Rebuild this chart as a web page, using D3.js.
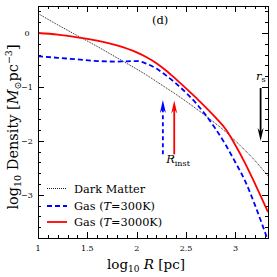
<!DOCTYPE html>
<html>
<head>
<meta charset="utf-8">
<script src="https://cdn.jsdelivr.net/npm/d3@7"></script>
<style>
  body { margin: 0; background: #fff; }
  svg { display: block; font-family: "DejaVu Serif", serif; }
</style>
</head>
<body>
<svg id="chart" width="277" height="277"></svg>
<script>
// log10 R [pc]
var logR = [1.0, 1.2, 1.4, 1.6, 1.8, 2.0, 2.1, 2.2, 2.3, 2.4, 2.6, 2.8, 2.9, 3.0, 3.1, 3.2, 3.33];
// log10 density
var darkMatter = [0.36, 0.15, -0.05, -0.25, -0.46, -0.67, -0.78, -0.9, -1.02, -1.14, -1.4, -1.68, -1.83, -2.0, -2.18, -2.37, -2.65];
var gas300 = [-0.43, -0.46, -0.49, -0.52, -0.53, -0.52, -0.57, -0.66, -0.79, -0.94, -1.3, -1.78, -2.07, -2.4, -2.75, -3.2, -3.85];
var gas3000 = [0.0, -0.03, -0.08, -0.14, -0.23, -0.36, -0.45, -0.56, -0.7, -0.86, -1.2, -1.57, -1.78, -2.08, -2.42, -2.8, -3.32];

var xTicks = [1, 1.5, 2, 2.5, 3];
var yTicks = [0, -1, -2, -3];

// vertical arrows: [logR, from, to]
var rInstBlue = [2.265, -2.25, -1.24];
var rInstRed = [2.38, -2.25, -1.25];
var rsArrow = [3.255, -1.02, -2.0];

window.addEventListener('load', init);

function init() {
    var svg = d3.select('#chart');
    var left = 38, right = 268, top = 6, bottom = 238;

    var xScale = d3.scaleLinear().domain([1, 3.33]).range([left, right]);
    var yScale = d3.scaleLinear().domain([-3.8, 0.5]).range([bottom, top]);

    svg.append('clipPath').attr('id', 'clip')
        .append('rect')
        .attr('x', left).attr('y', top)
        .attr('width', right - left).attr('height', bottom - top);

    // ticks on all four sides, pointing in
    var xMinor = d3.range(1, 3.331, 0.1);
    var yMinor = d3.range(-3.8, 0.501, 0.2);
    var g = svg.append('g').attr('stroke', '#000').attr('stroke-width', 1);
    xMinor.forEach(function (v) {
        var major = Math.abs(v * 2 - Math.round(v * 2)) < 1e-6;
        var len = major ? 6 : 3;
        var x = Math.round(xScale(v)) + 0.5;
        g.append('line').attr('x1', x).attr('x2', x).attr('y1', bottom).attr('y2', bottom - len);
        g.append('line').attr('x1', x).attr('x2', x).attr('y1', top).attr('y2', top + len);
    });
    yMinor.forEach(function (v) {
        var major = Math.abs(v - Math.round(v)) < 1e-6;
        var len = major ? 6 : 3;
        var y = Math.round(yScale(v)) + 0.5;
        g.append('line').attr('y1', y).attr('y2', y).attr('x1', left).attr('x2', left + len);
        g.append('line').attr('y1', y).attr('y2', y).attr('x1', right).attr('x2', right - len);
    });

    svg.selectAll('.xlab').data(xTicks).enter().append('text')
        .attr('x', function (d) { return xScale(d); })
        .attr('y', 251)
        .attr('text-anchor', 'middle')
        .attr('font-size', 8)
        .text(function (d) { return d; });

    svg.selectAll('.ylab').data(yTicks).enter().append('text')
        .attr('x', 27)
        .attr('y', function (d) { return yScale(d) + 3; })
        .attr('text-anchor', 'middle')
        .attr('font-size', 8)
        .text(function (d) { return d === 0 ? '0' : '\u2212' + (-d); });

    var line = d3.line()
        .x(function (d) { return xScale(d[0]); })
        .y(function (d) { return yScale(d[1]); })
        .curve(d3.curveMonotoneX);

    var curves = svg.append('g').attr('clip-path', 'url(#clip)');
    curves.append('path')
        .attr('d', line(d3.zip(logR, darkMatter)))
        .attr('fill', 'none').attr('stroke', '#000')
        .attr('stroke-width', 0.9).attr('stroke-dasharray', '1,1');
    curves.append('path')
        .attr('d', line(d3.zip(logR, gas300)))
        .attr('fill', 'none').attr('stroke', '#0000ff')
        .attr('stroke-width', 1.8).attr('stroke-dasharray', '5,3');
    curves.append('path')
        .attr('d', line(d3.zip(logR, gas3000)))
        .attr('fill', 'none').attr('stroke', '#ff0000')
        .attr('stroke-width', 1.8);

    // frame
    svg.append('rect')
        .attr('x', left + 0.5).attr('y', top + 0.5)
        .attr('width', right - left).attr('height', bottom - top)
        .attr('fill', 'none').attr('stroke', '#000').attr('stroke-width', 1);

    function arrow(a, color, dash, up) {
        var x = xScale(a[0]);
        var y0 = yScale(a[1]), y1 = yScale(a[2]);
        var dir = up ? 1 : -1;
        svg.append('line')
            .attr('x1', x).attr('x2', x)
            .attr('y1', y0).attr('y2', y1 + dir * 8)
            .attr('stroke', color).attr('stroke-width', 1.8)
            .attr('stroke-dasharray', dash);
        svg.append('path')
            .attr('d', 'M' + x + ',' + y1 + ' L' + (x - 3) + ',' + (y1 + dir * 13) +
                ' L' + x + ',' + (y1 + dir * 9) + ' L' + (x + 3) + ',' + (y1 + dir * 13) + 'Z')
            .attr('fill', color);
    }
    arrow(rInstBlue, '#0000ff', '4,3', true);
    arrow(rInstRed, '#ff0000', null, true);
    arrow(rsArrow, '#000', null, false);

    var rinst = svg.append('text')
        .attr('x', 178).attr('y', 163)
        .attr('text-anchor', 'middle').attr('font-size', 11.5);
    rinst.append('tspan').attr('font-style', 'italic').text('R');
    rinst.append('tspan').attr('font-size', 8).attr('dy', 3).text('inst');

    var rs = svg.append('text')
        .attr('x', 256).attr('y', 80).attr('font-size', 11.5);
    rs.append('tspan').attr('font-style', 'italic').text('r');
    rs.append('tspan').attr('font-size', 8).attr('dy', 2).text('s');

    svg.append('text').attr('x', 152).attr('y', 24)
        .attr('font-size', 11.5).text('(d)');

    // legend
    var legend = [
        { label: 'Dark Matter', color: '#000', w: 0.9, dash: '1,1' },
        { label: 'Gas (T=300K)', color: '#0000ff', w: 1.8, dash: '5,3' },
        { label: 'Gas (T=3000K)', color: '#ff0000', w: 1.8, dash: null }
    ];
    var ly = [188.5, 206, 222];
    legend.forEach(function (d, i) {
        svg.append('line')
            .attr('x1', 47).attr('x2', 67).attr('y1', ly[i]).attr('y2', ly[i])
            .attr('stroke', d.color).attr('stroke-width', d.w)
            .attr('stroke-dasharray', d.dash);
        var t = svg.append('text').attr('x', 74).attr('y', ly[i] + 4).attr('font-size', 11.3);
        if (i === 0) {
            t.text(d.label);
        } else {
            t.append('tspan').text('Gas (');
            t.append('tspan').attr('font-style', 'italic').text('T');
            t.append('tspan').text(i === 1 ? '=300K)' : '=3000K)');
        }
    });

    // axis titles
    var xt = svg.append('text').attr('x', 146).attr('y', 269)
        .attr('text-anchor', 'middle').attr('font-size', 13.5);
    xt.append('tspan').text('log');
    xt.append('tspan').attr('font-size', 9).attr('dy', 3).text('10');
    xt.append('tspan').attr('dy', -3).attr('font-style', 'italic').text(' R');
    xt.append('tspan').text('  [pc]');

    var yt = svg.append('text')
        .attr('transform', 'translate(18,127) rotate(-90)')
        .attr('text-anchor', 'middle').attr('font-size', 14.5);
    yt.append('tspan').text('log');
    yt.append('tspan').attr('font-size', 9.5).attr('dy', 3).text('10');
    yt.append('tspan').attr('dy', -3).text(' Density  [');
    yt.append('tspan').attr('font-style', 'italic').text('M');
    yt.append('tspan').attr('font-size', 9.5).attr('dy', 3).text('\u2299');
    yt.append('tspan').attr('dy', -3).text('pc');
    yt.append('tspan').attr('font-size', 9.5).attr('dy', -6).text('\u22123');
    yt.append('tspan').attr('dy', 6).text(']');
}
</script>
</body>
</html>
